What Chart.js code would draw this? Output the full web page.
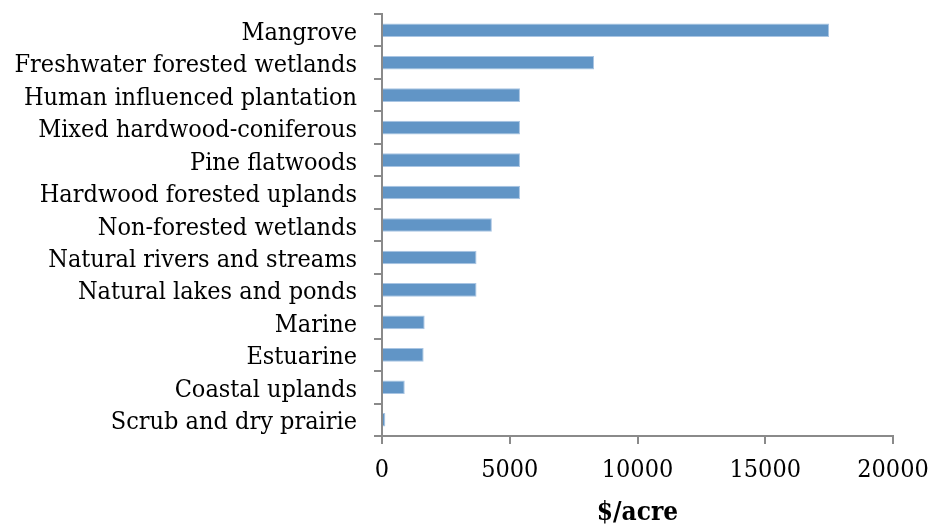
<!DOCTYPE html>
<html>
<head>
<meta charset="utf-8">
<script src="https://cdn.jsdelivr.net/npm/chart.js@4.4.1/dist/chart.umd.min.js"></script>
<style>
  html, body { margin: 0; padding: 0; background: #fff; }
  #wrap { width: 934px; height: 529px; }
</style>
</head>
<body>
<div id="wrap"><canvas id="chart" width="934" height="529"></canvas></div>
<script>
// habitat types, top to bottom
const habitats = [
  'Mangrove',
  'Freshwater forested wetlands',
  'Human influenced plantation',
  'Mixed hardwood-coniferous',
  'Pine flatwoods',
  'Hardwood forested uplands',
  'Non-forested wetlands',
  'Natural rivers and streams',
  'Natural lakes and ponds',
  'Marine',
  'Estuarine',
  'Coastal uplands',
  'Scrub and dry prairie'
];
// value in $/acre
const valuePerAcre = [17500, 8300, 5400, 5400, 5400, 5400, 4300, 3700, 3700, 1670, 1630, 890, 130];
const xTicks = [0, 5000, 10000, 15000, 20000];

const axisGray = '#8a8a8a';
const serif = "'DejaVu Serif Condensed', 'DejaVu Serif', serif";
const labelFont = { family: serif, size: 25 };

new Chart(document.getElementById('chart'), {
  type: 'bar',
  data: {
    labels: habitats,
    datasets: [{
      data: valuePerAcre,
      backgroundColor: '#6195c6',
      borderColor: '#a9c5e3',
      borderWidth: 1,
      categoryPercentage: 1,
      barPercentage: 0.42
    }]
  },
  options: {
    indexAxis: 'y',
    responsive: false,
    animation: false,
    layout: { padding: { top: 14, right: 41, left: 0, bottom: 0 } },
    plugins: { legend: { display: false }, tooltip: { enabled: false } },
    scales: {
      x: {
        min: 0,
        max: 20000,
        afterBuildTicks: (scale) => { scale.ticks = xTicks.map(v => ({ value: v })); },
        afterFit: (scale) => {
          scale.height = 93;
          scale.paddingLeft = 0;
          scale.paddingRight = 0;
        },
        grid: { drawOnChartArea: false, drawTicks: true, tickLength: 8, color: axisGray, lineWidth: 2 },
        border: { color: axisGray, width: 2 },
        ticks: { color: '#000', font: labelFont, padding: 11, maxRotation: 0, callback: (v) => String(v) },
        title: {
          display: true,
          text: '$/acre',
          color: '#000',
          font: { family: serif, size: 26, weight: 'bold' },
          padding: { top: 0, bottom: 0 }
        }
      },
      y: {
        afterFit: (scale) => {
          scale.width = 382;
          scale.paddingTop = 0;
          scale.paddingBottom = 0;
        },
        grid: { offset: true, drawOnChartArea: false, drawTicks: true, tickLength: 8, color: axisGray, lineWidth: 2 },
        border: { color: axisGray, width: 2 },
        ticks: { color: '#000', font: labelFont, padding: 17, labelOffset: 3, autoSkip: false }
      }
    }
  }
});
</script>
</body>
</html>
